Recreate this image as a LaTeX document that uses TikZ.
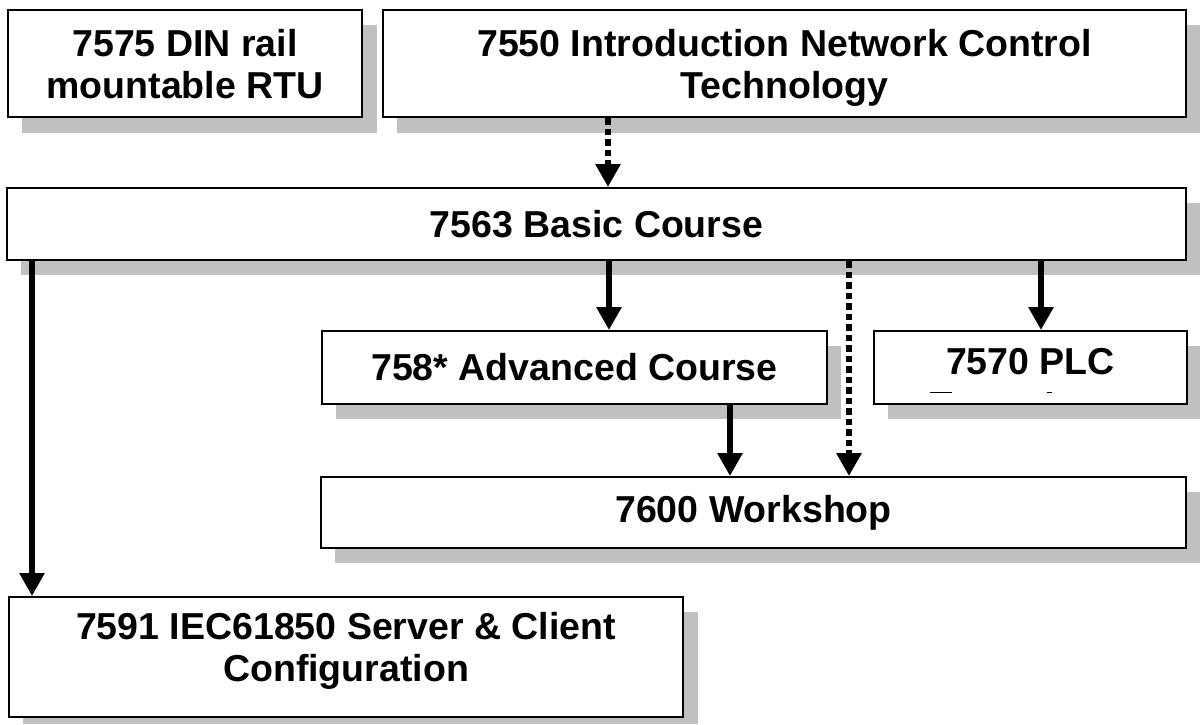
\documentclass[tikz,border=0pt]{standalone}
\usepackage{fontspec}
\setmainfont{Liberation Sans}
\usetikzlibrary{arrows.meta}
\begin{document}
\begin{tikzpicture}[x=1pt,y=-1pt,
  box/.style={draw=black, line width=2pt, fill=white, inner sep=0pt, align=center,
    font=\fontsize{37.5}{42}\selectfont\bfseries},
  shadowbox/.style={fill=shadowgray, draw=none},
  solidarrow/.style={line width=6pt, -{Triangle[length=23pt,width=24pt]}},
  dotarrow/.style={line width=6.5pt, dash pattern=on 6.5pt off 4pt, -{Triangle[length=23pt,width=24pt]}},
  thinmark/.style={line width=1pt}]
\definecolor{shadowgray}{HTML}{C0C0C0}
\useasboundingbox (0,0) rectangle (1200,724);
% shadows
\fill[shadowbox] (22,25) rectangle (377,133);
\fill[shadowbox] (397,25) rectangle (1200,133);
\fill[shadowbox] (21,203) rectangle (1200,275);
\fill[shadowbox] (336,346) rectangle (841,419);
\fill[shadowbox] (888,346) rectangle (1200,419);
\fill[shadowbox] (335,492) rectangle (1200,563);
\fill[shadowbox] (23,612) rectangle (698,724);
% boxes
\node[box, minimum width=354pt, minimum height=107pt, anchor=north west, text depth=-5pt] (din) at (7,9)
  {7575 DIN rail\\mountable RTU};
\node[box, minimum width=803pt, minimum height=107pt, anchor=north west, text depth=-2pt] (intro) at (382,9)
  {7550 Introduction Network Control\\Technology};
\node[box, minimum width=1179pt, minimum height=72pt, anchor=north west, text depth=-4pt] (basic) at (6,187)
  {7563 Basic Course};
\node[box, minimum width=505pt, minimum height=73pt, anchor=north west] (adv) at (321,330)
  {758* Advanced Course};
\node[box, minimum width=313pt, minimum height=73pt, anchor=north west, text depth=12pt] (plc) at (873,330)
  {7570 PLC};
\node[box, minimum width=865pt, minimum height=71pt, anchor=north west] (work) at (320,476)
  {7600 Workshop};
\node[box, minimum width=674pt, minimum height=120pt, anchor=north west, text depth=20pt] (iec) at (8,596)
  {7591 IEC61850 Server \& Client\\Configuration};
% clipped marks in PLC box
\coordinate (m1a) at (930,392); \coordinate (m1b) at (952,392);
\coordinate (m2a) at (1047,392); \coordinate (m2b) at (1052,392);
\draw[thinmark] (m1a) -- (m1b);
\draw[thinmark] (m2a) -- (m2b);
% connectors
\draw[dotarrow] (intro.south -| 608,0) -- (basic.north -| 608,0);
\draw[solidarrow] (basic.south -| 32,0) -- (iec.north -| 32,0);
\draw[solidarrow] (basic.south -| 609,0) -- (adv.north -| 609,0);
\draw[solidarrow] (basic.south -| 1041,0) -- (plc.north -| 1041,0);
\draw[dotarrow] (basic.south -| 849,0) -- (work.north -| 849,0);
\draw[solidarrow] (adv.south -| 730,0) -- (work.north -| 730,0);
\end{tikzpicture}
\end{document}
